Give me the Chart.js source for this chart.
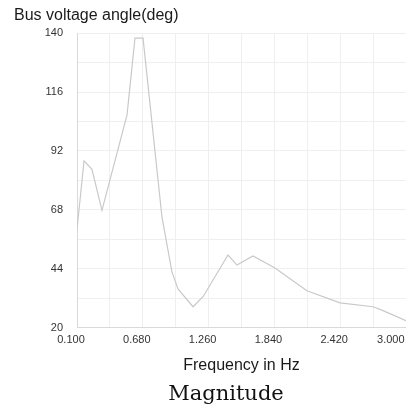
<!DOCTYPE html>
<html>
<head>
<meta charset="utf-8">
<script src="https://cdn.jsdelivr.net/npm/chart.js@4/dist/chart.umd.min.js"></script>
<style>
  html, body { margin: 0; padding: 0; background: #ffffff; overflow: hidden; }
  #wrap { position: relative; width: 406px; height: 406px; }
  #cv { position: absolute; left: 0; top: 0; }
  #caption { position: absolute; left: 126px; width: 200px; top: 381px; text-align: center;
             font-family: "DejaVu Serif", "Liberation Serif", serif; font-size: 21px; color: #111; }
</style>
</head>
<body>
<div id="wrap">
  <canvas id="cv" width="406" height="406"></canvas>
  <div id="caption">Magnitude</div>
</div>
<script>
// Data
const freqHz   = [0.100, 0.162, 0.232, 0.320, 0.541, 0.611, 0.682, 0.849, 0.937, 0.990, 1.123, 1.211, 1.431, 1.510, 1.651, 1.845, 2.127, 2.418, 2.709, 2.797, 3.000];
const angleDeg = [60.0, 88.0, 84.5, 67.8, 106.7, 138.0, 138.0, 65.0, 42.7, 35.8, 28.5, 32.6, 49.6, 45.5, 49.2, 44.3, 35.0, 30.1, 28.5, 26.9, 22.8];
const yTickLabels = ['20', '44', '68', '92', '116', '140'];
const xTickLabels = ['0.100', '0.680', '1.260', '1.840', '2.420', '3.000'];
const chartTitle = 'Bus voltage angle(deg)';
const xAxisTitle = 'Frequency in Hz';

const points = freqHz.map((f, i) => ({ x: f, y: angleDeg[i] }));

new Chart(document.getElementById('cv'), {
  type: 'line',
  data: {
    datasets: [{
      data: points,
      borderColor: '#c9c9c9',
      borderWidth: 1.2,
      pointRadius: 0,
      tension: 0,
      fill: false
    }]
  },
  options: {
    responsive: false,
    animation: false,
    layout: { padding: { left: 14, right: 0, top: 0, bottom: 26 } },
    plugins: {
      legend: { display: false },
      tooltip: { enabled: false },
      title: {
        display: true,
        text: chartTitle,
        align: 'start',
        color: '#1a1a1a',
        font: { family: 'Liberation Sans, Arial, sans-serif', size: 16, weight: 'normal' },
        padding: { top: 6, bottom: 8 }
      }
    },
    scales: {
      x: {
        type: 'linear',
        min: 0.1,
        max: 3.0,
        grid: { color: '#efefef', drawTicks: false, lineWidth: 1 },
        border: { color: '#d9d9d9' },
        ticks: {
          stepSize: 0.29,
          autoSkip: false,
          maxRotation: 0,
          padding: 6,
          labelOffset: -6,
          color: '#333333',
          font: { family: 'Liberation Sans, Arial, sans-serif', size: 11 },
          callback: (v, i) => {
            if (i % 2 !== 0) return '';
            const lbl = xTickLabels[i / 2];
            return i === 10 ? lbl + '      ' : lbl;
          }
        },
        title: {
          display: true,
          text: xAxisTitle,
          color: '#1a1a1a',
          font: { family: 'Liberation Sans, Arial, sans-serif', size: 16 },
          padding: { top: 3, bottom: 5 }
        },
        afterFit: (s) => { s.paddingRight = 0; }
      },
      y: {
        min: 20,
        max: 140,
        grid: { color: '#efefef', drawTicks: false, lineWidth: 1 },
        border: { color: '#d9d9d9' },
        ticks: {
          stepSize: 12,
          autoSkip: false,
          padding: 14,
          color: '#333333',
          font: { family: 'Liberation Sans, Arial, sans-serif', size: 11 },
          callback: (v, i) => (i % 2 === 0 ? yTickLabels[i / 2] : '')
        },
        afterFit: (s) => { s.width = 63; }
      }
    }
  }
});
</script>
</body>
</html>
